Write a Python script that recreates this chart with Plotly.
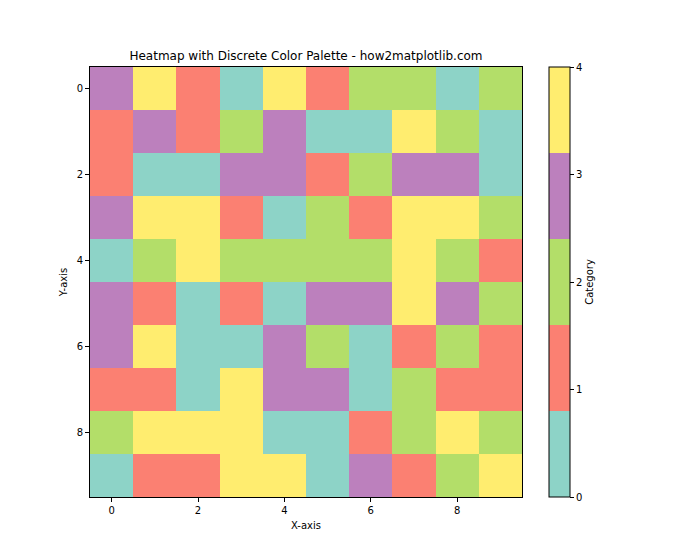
import plotly.graph_objects as go

rows = list(range(10))
cols = list(range(10))
values = [
    [3, 4, 1, 0, 4, 1, 2, 2, 0, 2],
    [1, 3, 1, 2, 3, 0, 0, 4, 2, 0],
    [1, 0, 0, 3, 3, 1, 2, 3, 3, 0],
    [3, 4, 4, 1, 0, 2, 1, 4, 4, 2],
    [0, 2, 4, 2, 2, 2, 2, 4, 2, 1],
    [3, 1, 0, 1, 0, 3, 3, 4, 3, 2],
    [3, 4, 0, 0, 3, 2, 0, 1, 2, 1],
    [1, 1, 0, 4, 3, 3, 0, 2, 1, 1],
    [2, 4, 4, 4, 0, 0, 1, 2, 4, 2],
    [0, 1, 1, 4, 4, 0, 3, 1, 2, 4],
]
palette = ["#8dd3c7", "#fb8072", "#b3de69", "#bc80bd", "#ffed6f"]
tick_vals = [0, 2, 4, 6, 8]
cbar_ticks = [0, 1, 2, 3, 4]

n = len(palette)
colorscale = []
for i, c in enumerate(palette):
    colorscale.append([i / n, c])
    colorscale.append([(i + 1) / n, c])

font = "DejaVu Sans"
L, R, T, B = 90, 178, 67, 63

fig = go.Figure(go.Heatmap(
    z=values, x=cols, y=rows,
    colorscale=colorscale, zmin=0, zmax=4,
    hoverongaps=False,
    colorbar=dict(
        x=(549 - L) / (700 - L - R), xanchor="left", xref="paper", xpad=0, ypad=0,
        y=0.5, yanchor="middle", len=1.0, lenmode="fraction",
        thickness=21, outlinewidth=1, outlinecolor="black",
        tickmode="array", tickvals=cbar_ticks, ticks="outside", ticklen=4,
        tickcolor="black", tickfont=dict(family=font, size=10, color="black"),
        title=dict(text="Category", side="right", font=dict(family=font, size=10, color="black")),
    ),
))

axis_common = dict(
    showgrid=False, zeroline=False, showline=True, linecolor="black", linewidth=1,
    mirror=True, ticks="outside", ticklen=4, tickcolor="black",
    tickfont=dict(family=font, size=10, color="black"),
    tickmode="array", tickvals=tick_vals,
)
fig.update_layout(
    width=700, height=560,
    font=dict(family=font, color="black"),
    margin=dict(l=L, r=R, t=T, b=B, autoexpand=False),
    paper_bgcolor="white", plot_bgcolor="white",
    title=dict(text="Heatmap with Discrete Color Palette - how2matplotlib.com",
               x=(L + 700 - R) / 2 / 700, xanchor="center", y=1 - 56 / 560, yanchor="middle",
               font=dict(family=font, size=12, color="black")),
    xaxis=dict(range=[-0.5, 9.5], title=dict(text="X-axis", font=dict(family=font, size=10, color="black"), standoff=6), **axis_common),
    yaxis=dict(range=[9.5, -0.5], title=dict(text="Y-axis", font=dict(family=font, size=10, color="black"), standoff=7), **axis_common),
)
fig.write_html("out.html", post_script="document.body.style.margin='0';",
               config={"displayModeBar": False})
